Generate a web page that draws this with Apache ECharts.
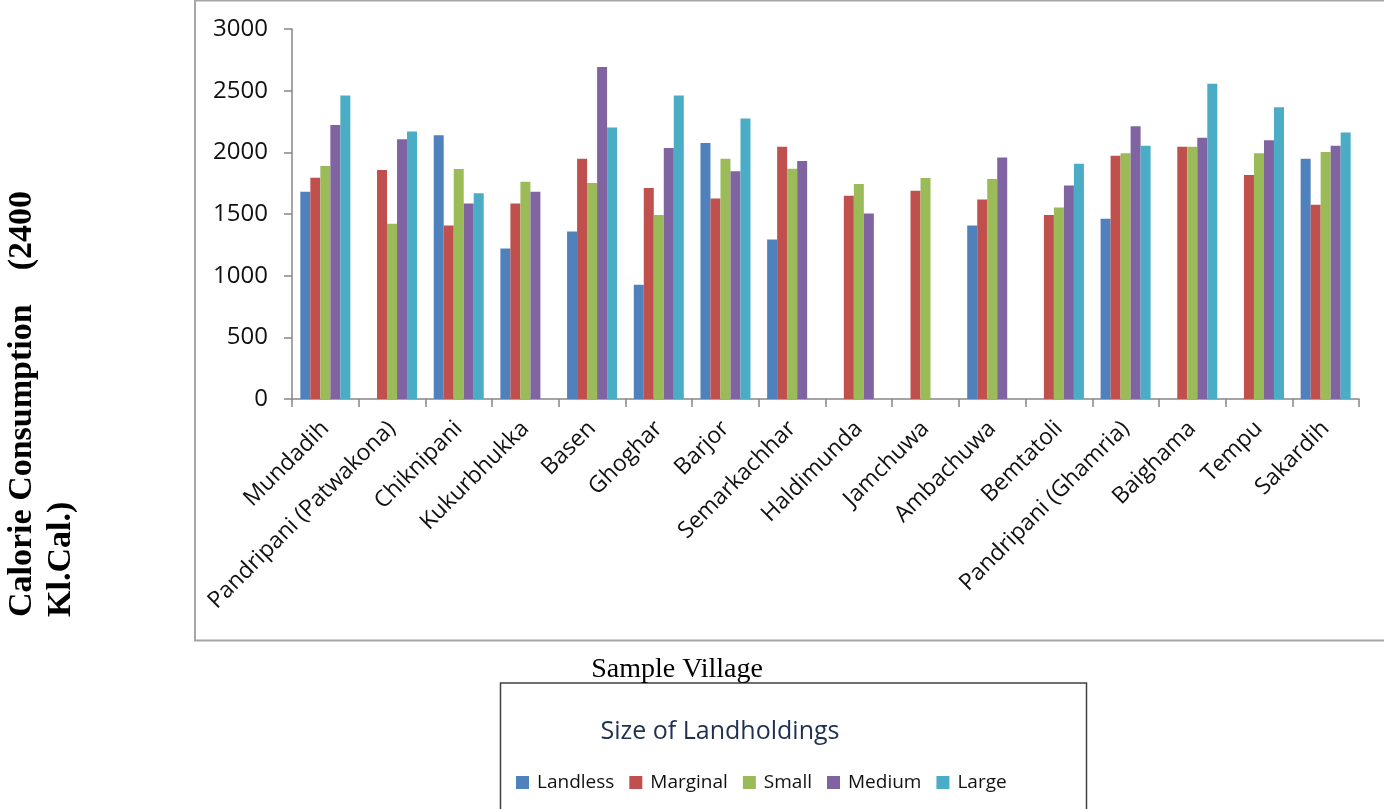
<!DOCTYPE html>
<html>
<head>
<meta charset="utf-8">
<script src="https://cdn.jsdelivr.net/npm/echarts@6/dist/echarts.min.js"></script>
<style>
  html, body { margin: 0; padding: 0; background: #fff; }
  #main { width: 1384px; height: 809px; }
</style>
</head>
<body>
<div id="main"></div>
<script>
// villages and calorie values per landholding class
var villages = ['Mundadih', 'Pandripani (Patwakona)', 'Chiknipani', 'Kukurbhukka', 'Basen', 'Ghoghar',
  'Barjor', 'Semarkachhar', 'Haldimunda', 'Jamchuwa', 'Ambachuwa', 'Bemtatoli',
  'Pandripani (Ghamria)', 'Baighama', 'Tempu', 'Sakardih'];
var classes = ['Landless', 'Marginal', 'Small', 'Medium', 'Large'];
var landless = [1680, null, 2138, 1220, 1358, 927, 2076, 1293, null, null, 1406, null, 1461, null, null, 1948];
var marginal = [1794, 1856, 1406, 1585, 1948, 1710, 1626, 2046, 1648, 1688, 1617, 1491, 1973, 2046, 1816, 1575];
var small = [1889, 1420, 1864, 1762, 1751, 1491, 1948, 1867, 1743, 1791, 1783, 1553, 1992, 2046, 1992, 2003];
var medium = [2222, 2106, 1585, 1680, 2691, 2035, 1846, 1930, 1504, null, 1959, 1732, 2211, 2119, 2098, 2054];
var large = [2461, 2168, 1669, null, 2201, 2461, 2274, null, null, null, null, 1908, 2054, 2556, 2366, 2160];
var yTicks = [0, 500, 1000, 1500, 2000, 2500, 3000];

var colors = ['#4F81BD', '#C0504D', '#9BBB59', '#8064A2', '#4BACC6'];
var allData = [landless, marginal, small, medium, large];

var myChart = echarts.init(document.getElementById('main'));

var series = classes.map(function (name, i) {
  return {
    name: name,
    type: 'bar',
    barGap: '0%',
    barCategoryGap: '25%',
    itemStyle: { color: colors[i] },
    data: allData[i]
  };
});

var option = {
  animation: false,
  color: colors,
  grid: { left: 292, right: 25, top: 29, bottom: 410 },
  legend: {
    data: classes,
    left: 511,
    top: 768,
    itemWidth: 13,
    itemHeight: 13,
    itemGap: 15,
    icon: 'rect',
    textStyle: { fontFamily: 'Open Sans', fontSize: 19, color: '#111', padding: [0, 0, 0, 3] }
  },
  xAxis: {
    type: 'category',
    data: villages,
    axisLine: { lineStyle: { color: '#868686', width: 1.5 } },
    axisTick: { show: true, length: 8, interval: 0, lineStyle: { color: '#868686', width: 1.5 } },
    axisLabel: {
      interval: 0,
      rotate: 45,
      margin: 26,
      fontFamily: 'Open Sans',
      fontSize: 23,
      color: '#111'
    }
  },
  yAxis: {
    type: 'value',
    min: yTicks[0],
    max: yTicks[yTicks.length - 1],
    interval: 500,
    splitLine: { show: false },
    axisLine: { show: true, lineStyle: { color: '#868686', width: 1.5 } },
    axisTick: { show: true, length: 8, lineStyle: { color: '#868686', width: 1.5 } },
    axisLabel: {
      margin: 24,
      fontFamily: 'Open Sans',
      fontSize: 24,
      color: '#111',
      formatter: function (v) { return String(v); }
    }
  },
  graphic: [
    {
      type: 'rect',
      shape: { x: 195, y: 0.5, width: 1200, height: 640 },
      style: { fill: 'none', stroke: '#a6a6a6', lineWidth: 2 },
      silent: true
    },
    {
      type: 'rect',
      shape: { x: 500.5, y: 683, width: 586, height: 140 },
      style: { fill: 'none', stroke: '#404040', lineWidth: 1.5 },
      silent: true
    },
    {
      type: 'text',
      x: 677,
      y: 670,
      style: {
        text: 'Sample Village',
        font: '28px "Liberation Serif"',
        fill: '#000',
        align: 'center',
        verticalAlign: 'middle'
      }
    },
    {
      type: 'text',
      x: 720,
      y: 732,
      style: {
        text: 'Size of Landholdings',
        font: '25px "Open Sans"',
        fill: '#1f3050',
        align: 'center',
        verticalAlign: 'middle'
      }
    },
    {
      type: 'text',
      x: 3,
      y: 617,
      rotation: Math.PI / 2,
      style: {
        text: 'Calorie Consumption    (2400\nKl.Cal.)',
        font: 'bold 34px "Liberation Serif"',
        lineHeight: 39,
        fill: '#000',
        align: 'left',
        verticalAlign: 'top'
      }
    }
  ],
  series: series
};

myChart.setOption(option);
</script>
</body>
</html>
